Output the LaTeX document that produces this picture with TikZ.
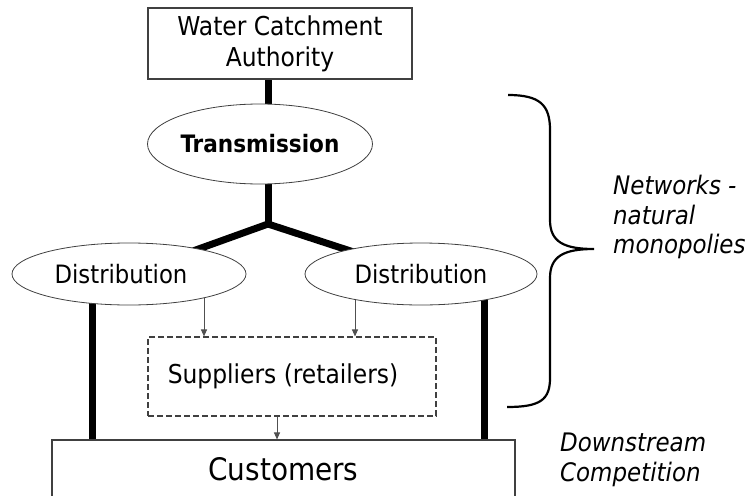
\documentclass[tikz,border=0pt]{standalone}
\usepackage{fontspec}
\setmainfont{DejaVu Sans Condensed}[BoldFont={DejaVu Sans Condensed Bold},ItalicFont={DejaVu Sans Condensed Oblique},BoldItalicFont={DejaVu Sans Condensed Bold Oblique}]
\usetikzlibrary{shapes.geometric,backgrounds,arrows.meta}
\definecolor{linegray}{HTML}{404040}
\definecolor{arrowgray}{HTML}{505050}
\begin{document}
\begin{tikzpicture}[x=1pt,y=-1pt,
  box/.style={draw=linegray,line width=1.1pt,fill=white,inner sep=0pt,align=center},
  oval/.style={ellipse,draw=linegray,line width=0.8pt,fill=white,inner sep=0pt},
  bar/.style={line width=7pt},
  feed/.style={draw=arrowgray,line width=1pt,-{Triangle[length=7pt,width=6pt]}},
  curly/.style={line width=2.2pt},
  note/.style={font=\fontsize{25.5}{29.5}\selectfont\itshape,align=left,inner sep=0pt,anchor=north west}]
\useasboundingbox (0,0) rectangle (751,495);
\node[box,minimum width=264pt,minimum height=71pt,font=\fontsize{26}{31}\selectfont] (wca) at (280,43.5) {Water Catchment\\Authority};
\node[oval,minimum width=225pt,minimum height=80pt,font=\fontsize{24}{28}\selectfont\bfseries] (trans) at (260,144) {Transmission};
\node[oval,minimum width=234pt,minimum height=62pt,font=\fontsize{25.3}{30}\selectfont] (dl) at (129,274) {Distribution\hspace*{16pt}};
\node[oval,minimum width=232pt,minimum height=62pt,font=\fontsize{25.3}{30}\selectfont] (dr) at (421,274) {Distribution};
\node[box,dashed,dash pattern=on 6pt off 3pt,minimum width=288pt,minimum height=79pt,font=\fontsize{26}{30}\selectfont] (sup) at (292,376.5) {Suppliers (retailers)\hspace*{18pt}};
\node[box,minimum width=463pt,minimum height=58pt,font=\fontsize{31}{36}\selectfont] (cust) at (283.5,469) {Customers};
\coordinate (junc) at (268,224);
\coordinate (xl) at (92,0);
\coordinate (xr) at (484,0);
\coordinate (xa) at (204,0);
\coordinate (xb) at (355,0);
\coordinate (xc) at (277,0);
\begin{scope}[on background layer]
\draw[bar] (wca.south -| junc) -- (junc);
\draw[bar,line join=miter] (dl.center) -- (junc) -- (dr.center);
\draw[bar] (dl.center -| xl) -- (cust.north -| xl);
\draw[bar] (dr.center -| xr) -- (cust.north -| xr);
\draw[feed] (dl.center -| xa) -- (sup.north -| xa);
\draw[feed] (dr.center -| xb) -- (sup.north -| xb);
\end{scope}
\draw[feed] (sup.south -| xc) -- (cust.north -| xc);
\draw[curly] (508,95) .. controls (540,95) and (550,105) .. (550,130) -- (550,220)
  .. controls (550,242) and (564,249) .. (594,249)
  .. controls (564,249) and (550,256) .. (550,278) -- (550,378)
  .. controls (550,400) and (540,407) .. (507,407);
\node[note] (net) at (613,175) {Networks -\\natural\\monopolies};
\node[note] (down) at (560,433) {Downstream\\Competition};
\end{tikzpicture}
\end{document}
